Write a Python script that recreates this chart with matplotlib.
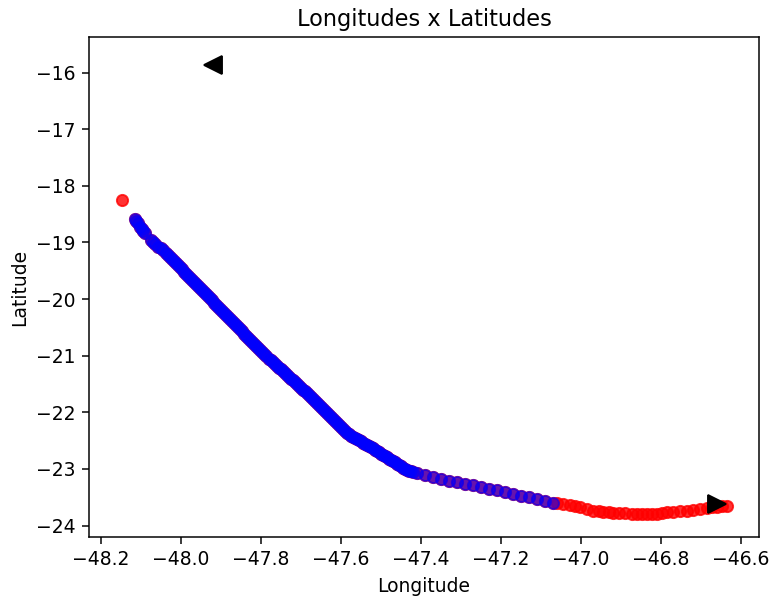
import matplotlib
matplotlib.use("Agg")
import matplotlib.pyplot as plt

# first recorded point (red only)
start_lon = [-48.1475]
start_lat = [-18.25]

# main tracked segment (shown in red and overlaid in blue)
track_lon = [
    -48.115, -48.112, -48.108, -48.1025, -48.098, -48.094, -48.09,
    -48.074, -48.069, -48.064, -48.057, -48.051, -48.044, -48.038, -48.032,
    -48.027, -48.022, -48.017, -48.012, -48.007, -48.002, -47.997, -47.992,
    -47.987, -47.982, -47.977, -47.972, -47.967, -47.962, -47.957, -47.952,
    -47.947, -47.942, -47.937, -47.932, -47.927, -47.922, -47.917, -47.912,
    -47.907, -47.902, -47.897, -47.892, -47.887, -47.882, -47.877, -47.872,
    -47.867, -47.862, -47.857, -47.852, -47.847, -47.842, -47.837, -47.832,
    -47.827, -47.822, -47.817, -47.812, -47.807, -47.802, -47.797, -47.792,
    -47.787,
    -47.781, -47.776, -47.771, -47.766, -47.761, -47.756, -47.751, -47.746,
    -47.741, -47.736, -47.731, -47.726, -47.721, -47.716, -47.711, -47.706,
    -47.701, -47.696,
    -47.691, -47.686, -47.681, -47.676, -47.671, -47.666, -47.661, -47.656,
    -47.651, -47.646, -47.641, -47.636, -47.631, -47.626, -47.621, -47.616,
    -47.611, -47.606, -47.601, -47.596, -47.591, -47.586,
    -47.581, -47.576, -47.571, -47.566, -47.561, -47.556, -47.551, -47.546,
    -47.541, -47.536, -47.531,
    -47.526, -47.521, -47.516, -47.511, -47.506, -47.501, -47.496, -47.491,
    -47.486, -47.481, -47.476, -47.471, -47.466, -47.461, -47.456, -47.451,
    -47.446, -47.441, -47.436, -47.431, -47.426, -47.421,
    -47.41, -47.39, -47.37, -47.35, -47.33, -47.31, -47.29, -47.27,
    -47.25, -47.23, -47.21, -47.19, -47.17, -47.15, -47.13, -47.11,
    -47.09, -47.07]
track_lat = [
    -18.590, -18.615, -18.660, -18.721, -18.770, -18.800, -18.837,
    -18.950, -18.986, -19.020, -19.074, -19.100, -19.133, -19.180, -19.221,
    -19.258, -19.294, -19.331, -19.367, -19.404, -19.440, -19.477, -19.513,
    -19.550, -19.586, -19.623, -19.659, -19.696, -19.732, -19.769, -19.805,
    -19.842, -19.878, -19.915, -19.951, -19.988, -20.024, -20.061, -20.097,
    -20.134, -20.170, -20.207, -20.243, -20.280, -20.316, -20.353, -20.389,
    -20.426, -20.462, -20.499, -20.535, -20.572, -20.608, -20.645, -20.681,
    -20.718, -20.754, -20.791, -20.827, -20.864, -20.900, -20.937, -20.973,
    -21.010,
    -21.050, -21.082, -21.114, -21.147, -21.179, -21.211, -21.243, -21.275,
    -21.307, -21.340, -21.372, -21.404, -21.436, -21.468, -21.500, -21.533,
    -21.565, -21.597,
    -21.627, -21.663, -21.698, -21.733, -21.768, -21.804, -21.839, -21.874,
    -21.909, -21.945, -21.980, -22.015, -22.050, -22.086, -22.121, -22.156,
    -22.191, -22.227, -22.262, -22.297, -22.332, -22.368,
    -22.391, -22.412, -22.432, -22.453, -22.473, -22.493, -22.514, -22.534,
    -22.554, -22.575, -22.595,
    -22.617, -22.639, -22.662, -22.684, -22.707, -22.729, -22.751, -22.774,
    -22.796, -22.818, -22.841, -22.863, -22.886, -22.908, -22.930, -22.953,
    -22.975, -22.997, -23.019, -23.033, -23.044, -23.053,
    -23.075, -23.110, -23.147, -23.176, -23.205, -23.233, -23.262, -23.291,
    -23.320, -23.350, -23.378, -23.408, -23.440, -23.470, -23.500, -23.532,
    -23.563, -23.594]

# final part of the route (red only)
tail_lon = [-47.06, -47.045, -47.0275, -47.015, -47.0025, -46.985, -46.969,
            -46.956, -46.944, -46.93, -46.919, -46.905, -46.89, -46.873,
            -46.861, -46.848, -46.836, -46.823, -46.811, -46.798, -46.786,
            -46.77, -46.7525, -46.736, -46.719, -46.703, -46.686, -46.673,
            -46.661, -46.648, -46.636]
tail_lat = [-23.610, -23.625, -23.638, -23.652, -23.673, -23.705, -23.739,
            -23.752, -23.762, -23.769, -23.774, -23.780, -23.785, -23.793,
            -23.797, -23.798, -23.797, -23.793, -23.788, -23.776, -23.762,
            -23.753, -23.744, -23.735, -23.726, -23.709, -23.691, -23.677,
            -23.664, -23.658, -23.655]

# origin / destination markers
origin_lon, origin_lat = [-47.92], [-15.865]
dest_lon, dest_lat = [-46.659], [-23.615]

red_lon = start_lon + track_lon + tail_lon
red_lat = start_lat + track_lat + tail_lat

DPI = 135
fig = plt.figure(figsize=(771 / DPI, 599 / DPI), dpi=DPI)
ax = fig.add_axes([89 / 771, (599 - 537.3) / 599, 670 / 771, 500 / 599])

ax.scatter(red_lon, red_lat, color="red", alpha=0.8)
ax.scatter(track_lon, track_lat, color="blue", alpha=0.6)
ax.plot(origin_lon, origin_lat, marker="<", color="black", markersize=10,
        linestyle="none")
ax.plot(dest_lon, dest_lat, marker=">", color="black", markersize=10,
        linestyle="none")

ax.set_xlim(-48.23, -46.555)
ax.set_ylim(-24.208, -15.375)
ax.set_xticks([-48.2, -48.0, -47.8, -47.6, -47.4, -47.2, -47.0, -46.8, -46.6])
ax.set_yticks([-24, -23, -22, -21, -20, -19, -18, -17, -16])

ax.set_title("Longitudes x Latitudes")
ax.set_xlabel("Longitude")
ax.set_ylabel("Latitude")

fig.savefig("out.png", dpi=DPI)
